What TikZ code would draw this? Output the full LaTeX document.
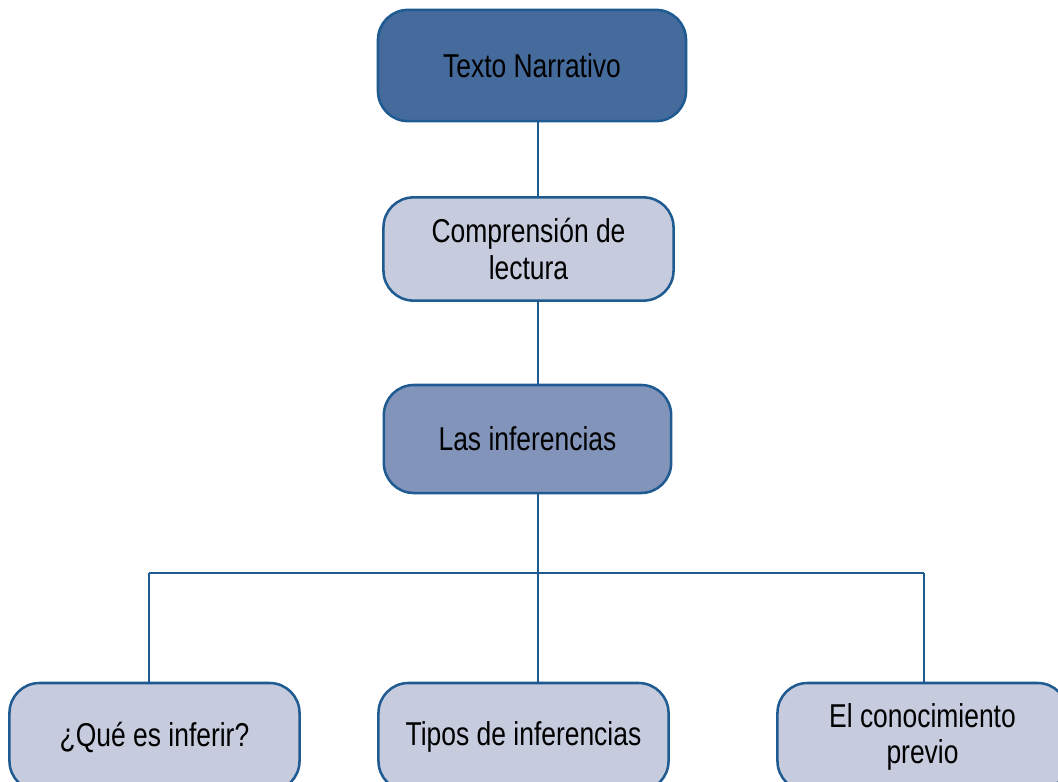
\documentclass[tikz,border=0pt]{standalone}
\usepackage{fontspec}
\setmainfont{Liberation Sans}[FakeStretch=0.8]
\usepackage{tikz}
\usepackage{xcolor}
\definecolor{edgeblue}{HTML}{1F5B91}
\definecolor{topfill}{HTML}{456A9C}
\definecolor{midfill}{HTML}{8294BA}
\definecolor{lightfill}{HTML}{C6CBDE}

\begin{document}
\begin{tikzpicture}[x=0.025cm, y=-0.025cm,
    box/.style={draw=edgeblue, line width=1.8pt, rounded corners=0.75cm,
                minimum width=7.25cm, minimum height=2.7cm, align=center,
                font=\fontsize{23.5}{26}\selectfont, text=black},
    link/.style={draw=edgeblue, line width=1.4pt}]
    \useasboundingbox (0,0) rectangle (1058,782);
    \clip (0,0) rectangle (1058,782);

    \node[box, fill=topfill, minimum width=7.7cm, minimum height=2.78cm]
        (texto) at (532,65.5) {Texto Narrativo};
    \node[box, fill=lightfill, minimum height=2.58cm]
        (compr) at (528.5,249) {Comprensión de\\lectura};
    \node[box, fill=midfill, minimum width=7.18cm]
        (infer) at (527.5,439) {Las inferencias};

    \node[box, fill=lightfill] (que) at (154.5,737) {¿Qué es inferir?};
    \node[box, fill=lightfill] (tipos) at (523.5,737) {Tipos de inferencias};
    \node[box, fill=lightfill] (conoc) at (922.5,737) {El conocimiento\\previo};

    \coordinate (spine) at (538,573);
    \coordinate (leftend) at (149,573);
    \coordinate (rightend) at (924,573);

    \draw[link] (texto.south -| spine) -- (compr.north -| spine);
    \draw[link] (compr.south -| spine) -- (infer.north -| spine);
    \draw[link] (infer.south -| spine) -- (tipos.north -| spine);
    \draw[link] (leftend) -- (rightend);
    \draw[link] (leftend) -- (que.north -| leftend);
    \draw[link] (rightend) -- (conoc.north -| rightend);
\end{tikzpicture}
\end{document}
